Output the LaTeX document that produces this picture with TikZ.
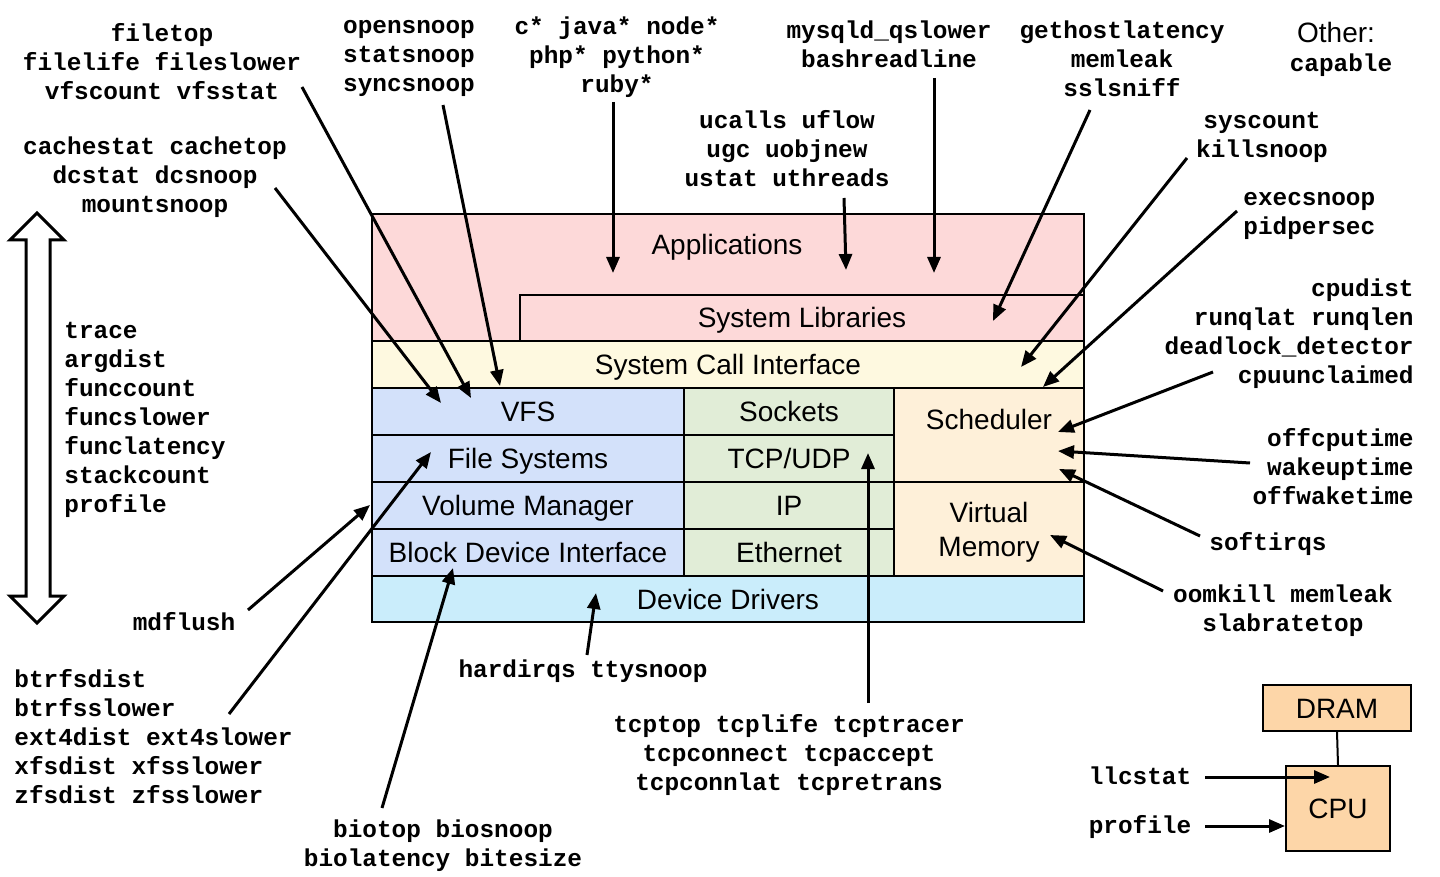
\documentclass[tikz,border=0pt]{standalone}
\usepackage{fontspec}
\setmainfont{Liberation Sans}
\setmonofont{Liberation Mono}
\usetikzlibrary{arrows.meta}

\definecolor{appred}{HTML}{FDD9D9}
\definecolor{sciyel}{HTML}{FEF9E0}
\definecolor{fsblue}{HTML}{D3E1FA}
\definecolor{netgreen}{HTML}{E1EDD7}
\definecolor{kernpeach}{HTML}{FEF0D9}
\definecolor{devcyan}{HTML}{CAEDFB}
\definecolor{hworange}{HTML}{FDD6A8}

\begin{document}
\begin{tikzpicture}[x=0.5pt, y=-0.5pt,
    layer/.style={draw=black, line width=1pt, inner sep=0pt, text height=12pt, text depth=2pt,
                  font=\fontsize{14}{16.5}\selectfont},
    hwbox/.style={layer, fill=hworange},
    tools/.style={font=\fontsize{12.2}{14.5}\selectfont\ttfamily\bfseries, align=center, inner sep=0pt},
    probe/.style={-{Triangle[length=8pt, width=6.5pt]}, line width=1.5pt}
]
    \useasboundingbox (0,0) rectangle (1440,877);

    % Software stack
    \node[layer, fill=appred, minimum width=356pt, minimum height=63.5pt] (apps) at (728, 277.5) {};
    \node[layer, draw=none] (appstext) at (727, 245) {Applications};
    \node[layer, fill=appred, minimum width=282pt, minimum height=23pt] (syslib) at (802, 318) {System Libraries};
    \node[layer, fill=sciyel, minimum width=356pt, minimum height=23.5pt] (sci) at (728, 364.5) {System Call Interface};

    % File system column
    \node[layer, fill=fsblue, minimum width=156pt, minimum height=23.5pt] (vfs) at (528, 411.5) {VFS};
    \node[layer, fill=fsblue, minimum width=156pt, minimum height=23.5pt] (fs) at (528, 458.5) {File Systems};
    \node[layer, fill=fsblue, minimum width=156pt, minimum height=23.5pt] (volmgr) at (528, 505.5) {Volume Manager};
    \node[layer, fill=fsblue, minimum width=156pt, minimum height=23.5pt] (bdi) at (528, 552.5) {Block Device Interface};

    % Network column
    \node[layer, fill=netgreen, minimum width=105pt, minimum height=23.5pt] (sockets) at (789, 411.5) {Sockets};
    \node[layer, fill=netgreen, minimum width=105pt, minimum height=23.5pt] (tcpudp) at (789, 458.5) {TCP/UDP};
    \node[layer, fill=netgreen, minimum width=105pt, minimum height=23.5pt] (ip) at (789, 505.5) {IP};
    \node[layer, fill=netgreen, minimum width=105pt, minimum height=23.5pt] (ether) at (789, 552.5) {Ethernet};

    % Scheduler and memory
    \node[layer, fill=kernpeach, minimum width=95pt, minimum height=47pt] (sched) at (989, 435) {};
    \node[layer, draw=none] (schedtext) at (989, 419) {Scheduler};
    \node[layer, fill=kernpeach, minimum width=95pt, minimum height=47pt] (vm) at (989, 529) {};
    \node[layer, draw=none] (vmtext1) at (989, 512) {Virtual};
    \node[layer, draw=none] (vmtext2) at (989, 546) {Memory};

    % Device drivers
    \node[layer, fill=devcyan, minimum width=356pt, minimum height=23pt] (drivers) at (728, 599) {Device Drivers};

    % Hardware
    \node[hwbox, minimum width=74pt, minimum height=23pt] (dram) at (1337, 708) {DRAM};
    \node[hwbox, minimum width=52pt, minimum height=42.5pt] (cpu) at (1338, 808.5) {CPU};
    \draw[line width=1pt] (dram.south) -- (cpu.north);

    % Whole stack arrow
    \draw[line width=1.5pt, fill=white] (37,213) -- (64,240) -- (50,240) -- (50,596) -- (64,596)
        -- (37,623) -- (10,596) -- (26,596) -- (26,240) -- (10,240) -- cycle;

    % Tool labels
    \node[tools] (filetop) at (162, 62) {filetop\\filelife fileslower\\vfscount vfsstat};
    \node[tools] (cachestat) at (155, 177) {cachestat cachetop\\dcstat dcsnoop\\mountsnoop};
    \node[tools] (opensnoop) at (409, 58) {opensnoop\\statsnoop\\syncsnoop};
    \node[tools] (lang) at (617, 57) {c* java* node*\\php* python*\\ruby*};
    \node[tools] (ucalls) at (787, 149) {ucalls uflow\\ugc uobjnew\\ustat uthreads};
    \node[tools] (mysqld) at (889, 44.5) {mysqld\_qslower\\bashreadline};
    \node[tools] (gethost) at (1122, 58.5) {gethostlatency\\memleak\\sslsniff};
    \node[layer, draw=none] (other) at (1336, 33) {Other:};
    \node[tools] (capable) at (1341, 65) {capable};
    \node[tools] (syscount) at (1262, 137) {syscount\\killsnoop};
    \node[tools, align=left, anchor=west] (execsnoop) at (1243, 216) {execsnoop\\pidpersec};
    \node[tools, align=right, anchor=east] (cpudist) at (1414, 333.5) {cpudist\\runqlat runqlen\\deadlock\_detector\\cpuunclaimed};
    \node[tools, align=right, anchor=east] (offcpu) at (1414, 467) {offcputime\\wakeuptime\\offwaketime};
    \node[tools] (softirqs) at (1268, 544) {softirqs};
    \node[tools] (oomkill) at (1283, 610.5) {oomkill memleak\\slabratetop};
    \node[tools, align=left, anchor=west] (trace) at (64, 420) {trace\\argdist\\funccount\\funcslower\\funclatency\\stackcount\\profile};
    \node[tools] (mdflush) at (184, 622) {mdflush};
    \node[tools, align=left, anchor=west] (btrfs) at (14, 737) {btrfsdist\\btrfsslower\\ext4dist ext4slower\\xfsdist xfsslower\\zfsdist zfsslower};
    \node[tools] (biotop) at (443, 845.5) {biotop biosnoop\\biolatency bitesize};
    \node[tools] (hardirqs) at (583, 671) {hardirqs ttysnoop};
    \node[tools] (tcptop) at (789, 755) {tcptop tcplife tcptracer\\tcpconnect tcpaccept\\tcpconnlat tcpretrans};
    \node[tools] (llcstat) at (1140, 776) {llcstat};
    \node[tools] (profile) at (1140, 827) {profile};

    % Arrow ends
    \coordinate (filetop-s) at (302, 87);    \coordinate (filetop-e) at (471, 398);
    \coordinate (cachestat-s) at (275, 188); \coordinate (cachestat-e) at (441, 403);
    \coordinate (opensnoop-s) at (443, 105); \coordinate (opensnoop-e) at (500, 386);
    \coordinate (lang-s) at (613, 102);      \coordinate (lang-e) at (613, 273);
    \coordinate (ucalls-s) at (844, 198);    \coordinate (ucalls-e) at (846, 270);
    \coordinate (mysqld-s) at (934, 78);     \coordinate (mysqld-e) at (934, 273);
    \coordinate (gethost-s) at (1090, 110);  \coordinate (gethost-e) at (993, 321);
    \coordinate (syscount-s) at (1187, 158); \coordinate (syscount-e) at (1021, 367);
    \coordinate (execsnoop-s) at (1237, 211);\coordinate (execsnoop-e) at (1043, 387);
    \coordinate (cpudist-s) at (1213, 372);  \coordinate (cpudist-e) at (1058, 432);
    \coordinate (offcpu-s) at (1250, 463);   \coordinate (offcpu-e) at (1058, 451);
    \coordinate (softirqs-s) at (1200, 536); \coordinate (softirqs-e) at (1059, 469);
    \coordinate (oomkill-s) at (1163, 591);  \coordinate (oomkill-e) at (1050, 535);
    \coordinate (mdflush-s) at (248, 610);   \coordinate (mdflush-e) at (370, 505);
    \coordinate (btrfs-s) at (229, 714);     \coordinate (btrfs-e) at (431, 452);
    \coordinate (biotop-s) at (382, 808);    \coordinate (biotop-e) at (453, 568);
    \coordinate (hardirqs-s) at (587, 655);  \coordinate (hardirqs-e) at (596, 593);
    \coordinate (tcptop-s) at (868, 703);    \coordinate (tcptop-e) at (868, 453);
    \coordinate (llcstat-s) at (1205, 777);  \coordinate (llcstat-e) at (1330, 777);
    \coordinate (profile-s) at (1205, 826);  \coordinate (profile-e) at (cpu.west |- profile-s);

    % Arrows
    \foreach \t in {filetop, cachestat, opensnoop, lang, ucalls, mysqld, gethost, syscount,
                    execsnoop, cpudist, offcpu, softirqs, oomkill, mdflush, btrfs, biotop,
                    hardirqs, tcptop, llcstat, profile}
        \draw[probe] (\t-s) -- (\t-e);

\end{tikzpicture}
\end{document}
